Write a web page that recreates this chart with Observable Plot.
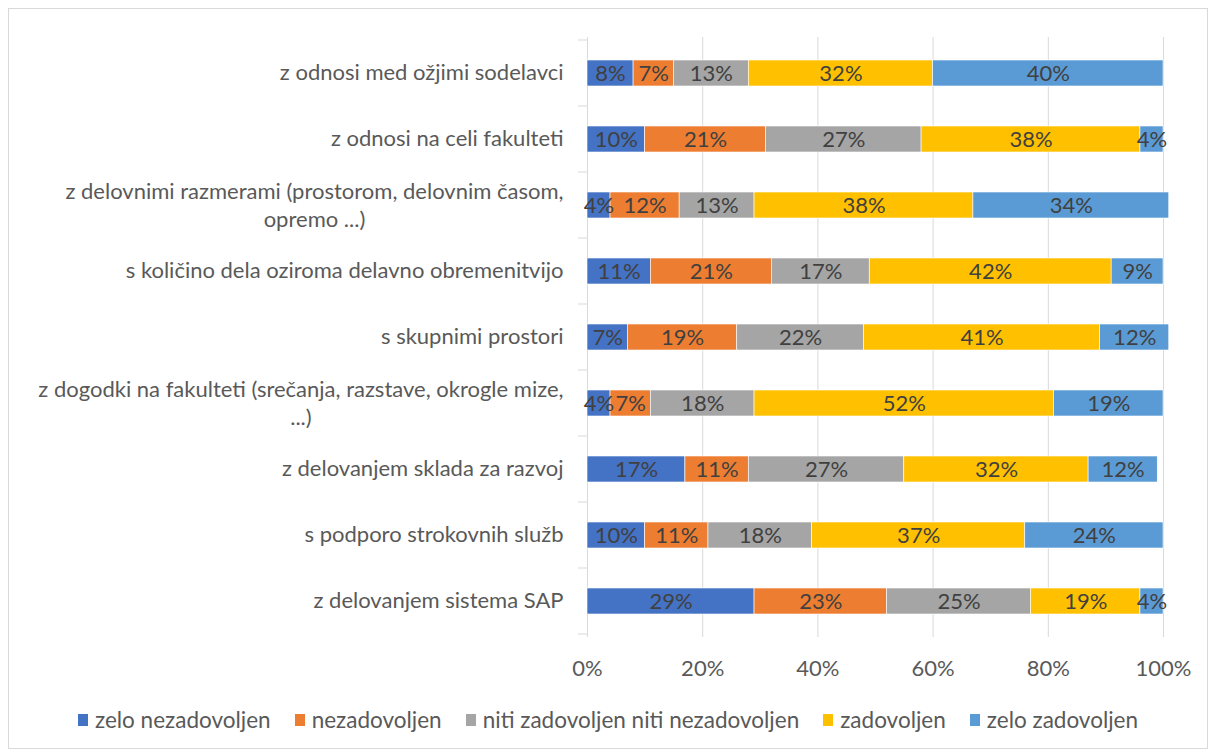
<!DOCTYPE html>
<html>
<head>
<meta charset="utf-8">
<script src="https://cdn.jsdelivr.net/npm/d3@7"></script>
<script src="https://cdn.jsdelivr.net/npm/@observablehq/plot@0.6"></script>
<style>
  html, body { margin: 0; padding: 0; background: #fff; }
  #frame { position: absolute; left: 8px; top: 8px; width: 1198px; height: 739px; border: 1px solid #d9d9d9; background: #fff; }
  #chart svg { display: block; }
  #legend { display: flex; justify-content: center; align-items: center; margin-top: 19px; font-family: Lato, "Open Sans", sans-serif; font-size: 22.5px; color: #595959; line-height: 24px; }
  #legend .item { display: flex; align-items: center; margin: 0 12px; }
  #legend .sw { width: 10px; height: 12px; margin-right: 7px; }
</style>
</head>
<body>
<div id="frame"><div id="chart"></div><div id="legend"></div></div>
<script>
const categories = [
  "z odnosi med ožjimi sodelavci",
  "z odnosi na celi fakulteti",
  "z delovnimi razmerami (prostorom, delovnim časom,\nopremo ...)",
  "s količino dela oziroma delavno obremenitvijo",
  "s skupnimi prostori",
  "z dogodki na fakulteti (srečanja, razstave, okrogle mize,\n...)",
  "z delovanjem sklada za razvoj",
  "s podporo strokovnih služb",
  "z delovanjem sistema SAP"
];
const seriesNames = ["zelo nezadovoljen", "nezadovoljen", "niti zadovoljen niti nezadovoljen", "zadovoljen", "zelo zadovoljen"];
const seriesColors = ["#4472C4", "#ED7D31", "#A5A5A5", "#FFC000", "#5B9BD5"];
const zeloNezadovoljen = [8, 10, 4, 11, 7, 4, 17, 10, 29];
const nezadovoljen     = [7, 21, 12, 21, 19, 7, 11, 11, 23];
const niti             = [13, 27, 13, 17, 22, 18, 27, 18, 25];
const zadovoljen       = [32, 38, 38, 42, 41, 52, 32, 37, 19];
const zeloZadovoljen   = [40, 4, 34, 9, 12, 19, 12, 24, 4];
const xTicks = [0, 20, 40, 60, 80, 100];

const seriesValues = [zeloNezadovoljen, nezadovoljen, niti, zadovoljen, zeloZadovoljen];
const data = [];
categories.forEach((c, i) => {
  seriesNames.forEach((s, j) => data.push({category: c, series: s, value: seriesValues[j][i]}));
});

const FONT = 'Lato, "Open Sans", sans-serif';
const FS = 22;
const GAP = 24;

const ctx = document.createElement("canvas").getContext("2d");
ctx.font = `${FS}px Lato`;
const singles = categories.filter(c => !c.includes("\n"));
const multis = categories.filter(c => c.includes("\n"));

const multiMarks = multis.map(c => {
  const w = ctx.measureText(c.split("\n")[0]).width;
  return Plot.text([c], {y: d => d, text: d => d, frameAnchor: "left", textAnchor: "middle",
    dx: -(GAP + w / 2), dy: -1, lineHeight: 1.27, fill: "#595959", fontSize: FS});
});

function catTicks(index, scales, values, dims) {
  const y = scales.y, x = scales.x;
  const step = y.step ? y.step() : (dims.height - dims.marginTop - dims.marginBottom) / categories.length;
  const bw = y.bandwidth ? y.bandwidth() : step * 0.4;
  const x0 = x(0);
  const g = d3.create("svg:g").attr("stroke", "#d9d9d9").attr("stroke-width", 1);
  const ys = categories.map(c => y(c) + bw / 2 - step / 2);
  ys.push(y(categories[categories.length - 1]) + bw / 2 + step / 2);
  ys.forEach(v => g.append("line").attr("x1", x0 - 9).attr("x2", x0).attr("y1", v).attr("y2", v));
  return g.node();
}

const chart = Plot.plot({
  width: 1198,
  height: 680,
  marginLeft: 578,
  marginRight: 44,
  marginTop: 28,
  marginBottom: 52,
  style: {fontFamily: FONT, fontSize: FS + "px", background: "transparent"},
  x: {domain: [0, 100], ticks: xTicks},
  y: {domain: categories, paddingInner: 0.6, paddingOuter: 0.3},
  color: {domain: seriesNames, range: seriesColors},
  marks: [
    Plot.gridX(xTicks, {stroke: "#d9d9d9", strokeOpacity: 1, strokeWidth: 1}),
    catTicks,
    Plot.barX(data, Plot.stackX({x: "value", y: "category", fill: "series", stroke: "white", strokeWidth: 0.6})),
    Plot.text(data, Plot.stackX({x: "value", y: "category", text: d => d.value + "%", fill: "#404040", fontSize: FS})),
    Plot.axisX(xTicks, {tickSize: 0, tickPadding: 23, tickFormat: d => d + "%", fill: "#595959", fontSize: FS, label: null}),
    Plot.axisY({ticks: [], label: null, tickSize: 0}),
    Plot.text(singles, {y: d => d, text: d => d, frameAnchor: "left", textAnchor: "end", dx: -GAP, dy: -1, fill: "#595959", fontSize: FS}),
    ...multiMarks
  ]
});
document.getElementById("chart").appendChild(chart);

const legend = document.getElementById("legend");
seriesNames.forEach((s, i) => {
  const item = document.createElement("div");
  item.className = "item";
  const sw = document.createElement("div");
  sw.className = "sw";
  sw.style.background = seriesColors[i];
  const t = document.createElement("span");
  t.textContent = s;
  item.appendChild(sw);
  item.appendChild(t);
  legend.appendChild(item);
});
</script>
</body>
</html>
